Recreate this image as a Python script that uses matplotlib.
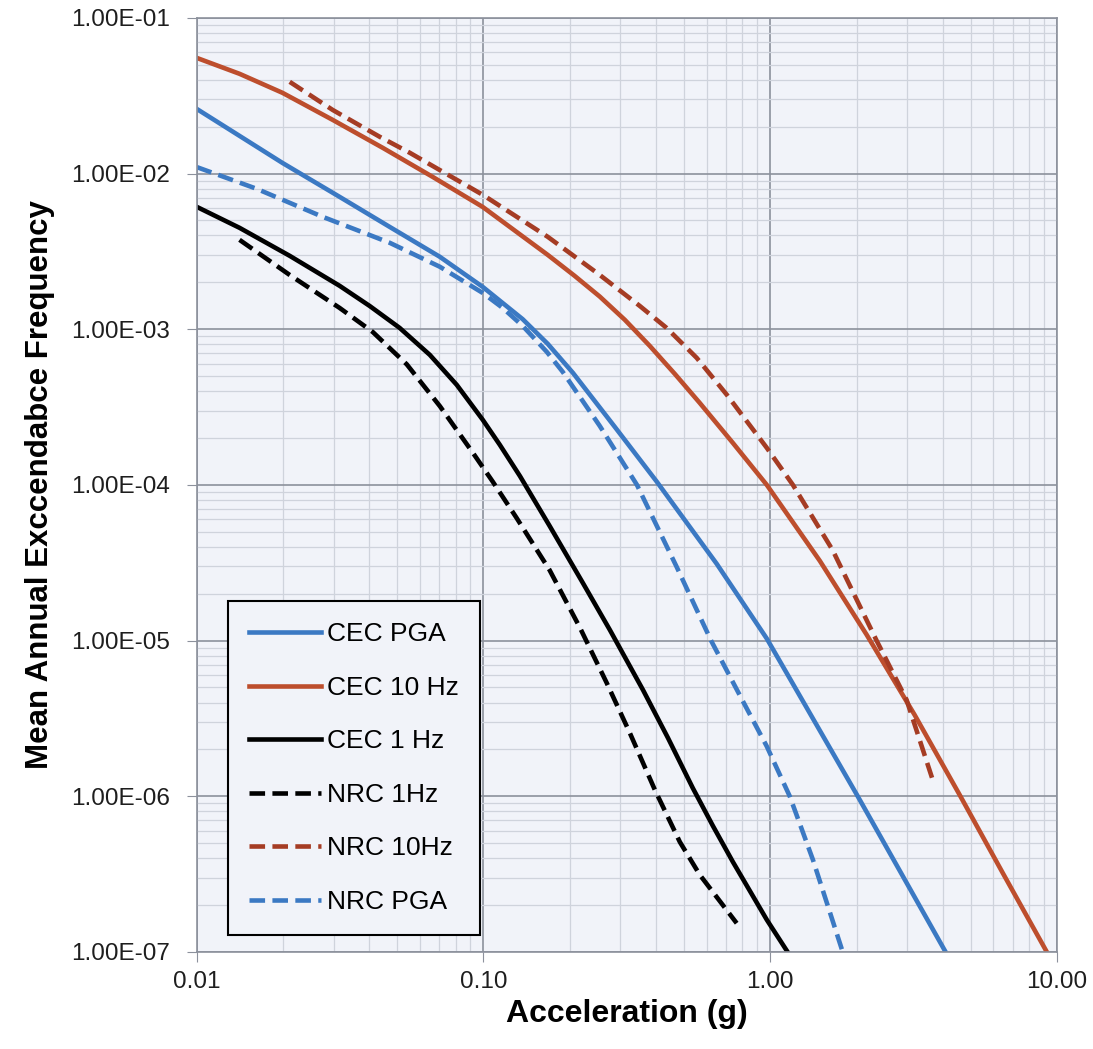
import matplotlib.pyplot as plt
from matplotlib.ticker import FixedLocator, FixedFormatter, LogLocator, NullFormatter

# curves (acceleration in g, mean annual exceedance frequency)
cec_pga_x = [0.01, 0.0199, 0.0315, 0.0471, 0.0704, 0.0994, 0.137, 0.1676, 0.205, 0.287, 0.402, 0.651, 0.973, 2.02, 4.09]
cec_pga_y = [2.6e-2, 1.17e-2, 7.08e-3, 4.54e-3, 2.92e-3, 1.87e-3, 1.16e-3, 8.05e-4, 5.25e-4, 2.36e-4, 1.05e-4, 3.11e-5, 1.03e-5, 1.0e-6, 1.0e-7]

cec_10_x = [0.01, 0.0141, 0.0199, 0.0298, 0.0446, 0.0666, 0.0994, 0.1676, 0.208, 0.2545, 0.311, 0.38, 0.465,
            0.568, 0.741, 0.973, 1.49, 2.17, 3.19, 4.58, 6.47, 9.22]
cec_10_y = [5.53e-2, 4.37e-2, 3.3e-2, 2.21e-2, 1.46e-2, 9.5e-3, 6.1e-3, 3.0e-3, 2.2e-3, 1.62e-3, 1.15e-3, 7.82e-4, 5.16e-4,
            3.36e-4, 1.86e-4, 1.0e-4, 3.25e-5, 1.09e-5, 3.33e-6, 1.02e-6, 3.22e-7, 1.0e-7]

cec_1_x = [0.01, 0.0141, 0.0211, 0.0315, 0.0401, 0.051, 0.065, 0.0807, 0.0994, 0.114, 0.134, 0.170, 0.222, 0.276,
           0.36, 0.44, 0.537, 0.631, 0.741, 0.973, 1.15]
cec_1_y = [6.11e-3, 4.48e-3, 2.96e-3, 1.9e-3, 1.41e-3, 1.02e-3, 6.84e-4, 4.39e-4, 2.62e-4, 1.81e-4, 1.14e-4, 5.46e-5,
           2.35e-5, 1.17e-5, 4.82e-6, 2.37e-6, 1.13e-6, 6.46e-7, 3.79e-7, 1.61e-7, 1.0e-7]

nrc_1_x = [0.0141, 0.0211, 0.0315, 0.0411, 0.054, 0.0705, 0.0918, 0.1077, 0.1305, 0.170, 0.217, 0.269, 0.324, 0.396, 0.484, 0.568, 0.764]
nrc_1_y = [3.75e-3, 2.23e-3, 1.37e-3, 9.6e-4, 5.95e-4, 3.2e-4, 1.61e-4, 1.05e-4, 6.13e-5, 2.84e-5, 1.21e-5, 5.35e-6, 2.55e-6, 1.1e-6, 5.09e-7, 3.13e-7, 1.53e-7]

nrc_10_x = [0.0211, 0.0298, 0.0435, 0.0553, 0.0994, 0.1676, 0.2545, 0.351, 0.435, 0.554, 0.706, 0.973, 1.2, 1.65, 2.1, 2.35, 2.99, 3.69]
nrc_10_y = [3.88e-2, 2.56e-2, 1.72e-2, 1.36e-2, 7.3e-3, 3.92e-3, 2.23e-3, 1.41e-3, 1.02e-3, 6.55e-4, 3.79e-4, 1.73e-4, 1.0e-4, 3.82e-5, 1.53e-5, 1.0e-5, 4.16e-6, 1.27e-6]

nrc_pga_x = [0.01, 0.0162, 0.0275, 0.0471, 0.0704, 0.0994, 0.1167, 0.137, 0.1663, 0.189, 0.2545, 0.343, 0.472, 0.622,
             0.802, 0.972, 1.17, 1.41, 1.79]
nrc_pga_y = [1.1e-2, 7.97e-3, 5.27e-3, 3.59e-3, 2.52e-3, 1.71e-3, 1.37e-3, 1.05e-3, 7.15e-4, 5.32e-4, 2.39e-4, 1.0e-4, 2.97e-5, 1.0e-5,
             4.1e-6, 2.1e-6, 1.0e-6, 3.9e-7, 1.0e-7]

x_ticks = [0.01, 0.1, 1, 10]
x_labels = ["0.01", "0.10", "1.00", "10.00"]
y_ticks = [1e-1, 1e-2, 1e-3, 1e-4, 1e-5, 1e-6, 1e-7]
y_labels = ["1.00E-01", "1.00E-02", "1.00E-03", "1.00E-04", "1.00E-05", "1.00E-06", "1.00E-07"]

plt.rcParams["font.family"] = ["Liberation Sans", "DejaVu Sans"]

blue = "#3b79c3"
red = "#bd4e2d"
red_dash = "#a53c24"

fig = plt.figure(figsize=(10.93, 10.49), dpi=100)
ax = fig.add_axes([0.180, 0.0925, 0.787, 0.8905])
ax.set_facecolor("#f1f3f9")

lw = 3.3
dash = (3.4, 1.6)
ax.plot(cec_pga_x, cec_pga_y, color=blue, lw=lw, label="CEC PGA")
ax.plot(cec_10_x, cec_10_y, color=red, lw=lw, label="CEC 10 Hz")
ax.plot(cec_1_x, cec_1_y, color="black", lw=lw, label="CEC 1 Hz")
ax.plot(nrc_1_x, nrc_1_y, color="black", lw=lw, dashes=dash, label="NRC 1Hz")
ax.plot(nrc_10_x, nrc_10_y, color=red_dash, lw=lw, dashes=dash, label="NRC 10Hz")
ax.plot(nrc_pga_x, nrc_pga_y, color=blue, lw=lw, dashes=dash, label="NRC PGA")

ax.set_xscale("log")
ax.set_yscale("log")
ax.set_xlim(0.01, 10)
ax.set_ylim(1e-7, 1e-1)

ax.xaxis.set_major_locator(FixedLocator(x_ticks))
ax.xaxis.set_major_formatter(FixedFormatter(x_labels))
ax.yaxis.set_major_locator(FixedLocator(y_ticks))
ax.yaxis.set_major_formatter(FixedFormatter(y_labels))
ax.xaxis.set_minor_locator(LogLocator(base=10, subs=range(2, 10)))
ax.yaxis.set_minor_locator(LogLocator(base=10, subs=range(2, 10)))
ax.xaxis.set_minor_formatter(NullFormatter())
ax.yaxis.set_minor_formatter(NullFormatter())

ax.grid(True, which="major", color="#8c919c", lw=1.2)
ax.grid(True, which="minor", color="#cfd3dc", lw=0.9)
ax.set_axisbelow(True)

for s in ax.spines.values():
    s.set_color("#8c919c")
    s.set_linewidth(1.2)
ax.tick_params(which="major", direction="out", length=7, color="#8c919c",
               labelsize=17.5, labelcolor="#1e1e1e")
ax.tick_params(axis="y", pad=12)
ax.tick_params(axis="x", pad=7)
ax.tick_params(which="minor", length=0)

ax.set_xlabel("Acceleration (g)", fontsize=23, fontweight="bold", labelpad=4)
ax.set_ylabel("Mean Annual Exccendabce Frequency", fontsize=22.5, fontweight="bold",
              labelpad=12)

leg = ax.legend(loc="lower left", bbox_to_anchor=(0.036, 0.018), fontsize=19,
                frameon=True, fancybox=False, edgecolor="black", facecolor="#f1f3f9",
                framealpha=1, handlelength=2.75, handletextpad=0.2,
                labelspacing=1.12, borderpad=0.8, borderaxespad=0)
leg.get_frame().set_linewidth(1.5)

fig.savefig("out.png", dpi=100, facecolor="white")
